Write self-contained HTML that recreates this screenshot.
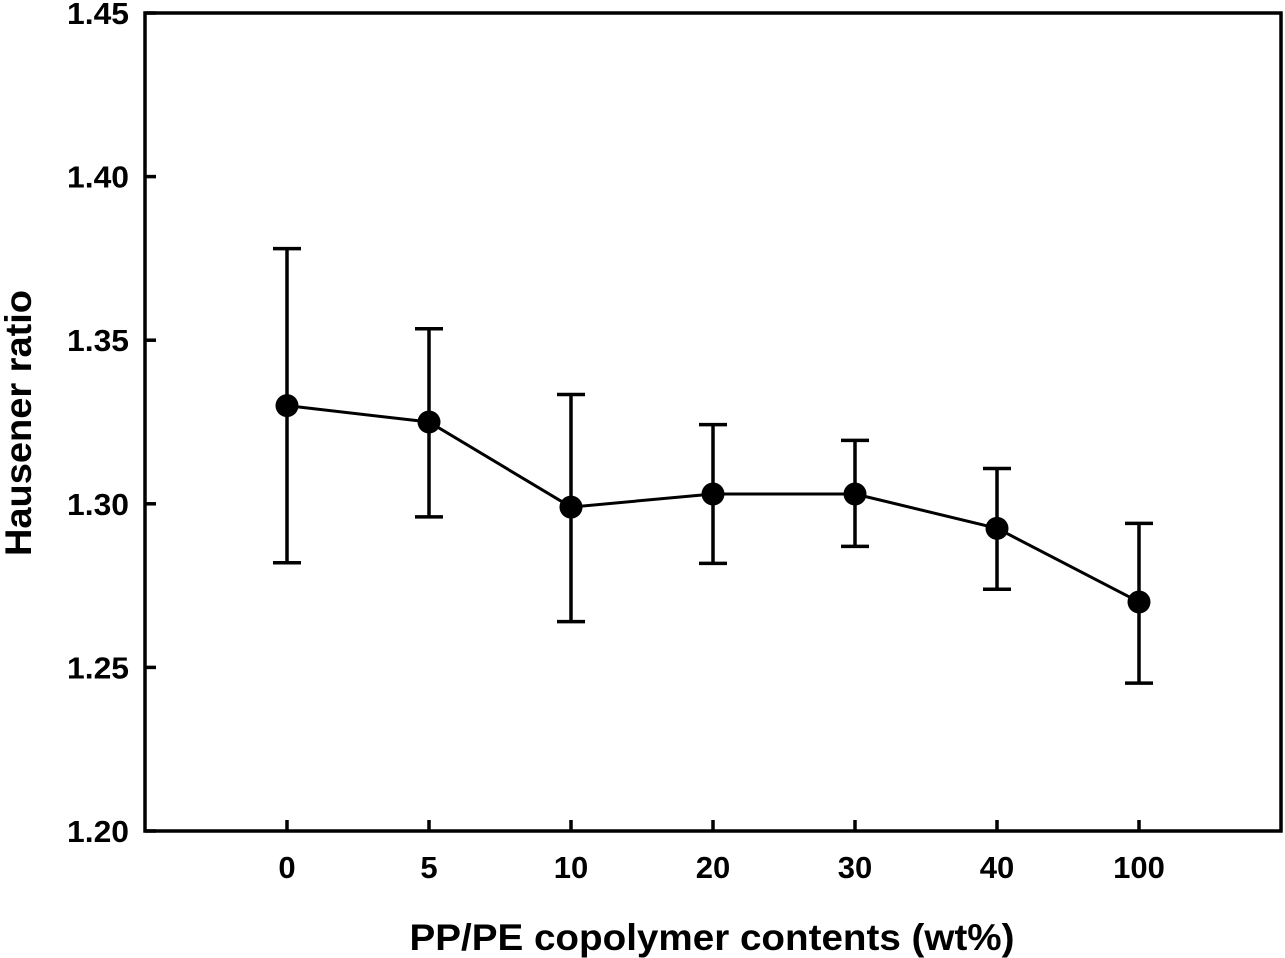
<!DOCTYPE html>
<html><head><meta charset="utf-8"><style>
html,body{margin:0;padding:0;background:#fff;}
svg{display:block;font-family:"Liberation Sans",Arial,sans-serif;font-weight:bold;}
</style></head><body>
<svg id="chart" width="1285" height="958" viewBox="0 0 1285 958" xmlns="http://www.w3.org/2000/svg"></svg>
<script>
const categories = ["0","5","10","20","30","40","100"];
const values = [1.330, 1.325, 1.299, 1.303, 1.303, 1.2925, 1.270];
const errUpper = [1.378, 1.3535, 1.3334, 1.3242, 1.3194, 1.3108, 1.294];
const errLower = [1.282, 1.296, 1.264, 1.2818, 1.287, 1.2739, 1.2452];
const yTicks = [1.20, 1.25, 1.30, 1.35, 1.40, 1.45];
const yTickLabels = ["1.20","1.25","1.30","1.35","1.40","1.45"];

const NS = "http://www.w3.org/2000/svg";
const svg = document.getElementById('chart');
const L = 145, R = 1281, T = 13, B = 831;
const yMin = 1.20, yMax = 1.45;
function yScale(v){ return B - (v - yMin) / (yMax - yMin) * (B - T); }
function xScale(i){ return L + (i + 1) * (R - L) / (categories.length + 1); }
function mk(tag, attrs, parent){
  const e = document.createElementNS(NS, tag);
  for (const k in attrs) e.setAttribute(k, attrs[k]);
  (parent || svg).appendChild(e);
  return e;
}

const frame = mk('rect', {x:L, y:T, width:R-L, height:B-T, fill:'none', stroke:'#000', 'stroke-width':3.5});



yTicks.forEach((v, i) => {
  const y = yScale(v);
  const t = mk('line', {x1:L, x2:L+11, y1:y, y2:y, stroke:'#000', 'stroke-width':3.5});
  
  
  const lb = mk('text', {x:129, y:y+11, 'text-anchor':'end', 'font-size':31, 'textLength':62, 'lengthAdjust':'spacingAndGlyphs'});
  lb.textContent = yTickLabels[i];
  
  
});

categories.forEach((c, i) => {
  const x = xScale(i);
  const t = mk('line', {x1:x, x2:x, y1:B, y2:B-11, stroke:'#000', 'stroke-width':3.5});
  
  
  const lb = mk('text', {x:x, y:878, 'text-anchor':'middle', 'font-size':31});
  lb.textContent = c;
  
  
});

const pts = values.map((v, i) => xScale(i) + ',' + yScale(v)).join(' ');
const line = mk('polyline', {points:pts, fill:'none', stroke:'#000', 'stroke-width':3});



values.forEach((v, i) => {
  const x = xScale(i), yu = yScale(errUpper[i]), yl = yScale(errLower[i]);
  const g = mk('g', {stroke:'#000', 'stroke-width':3.5});
  
  
  mk('line', {x1:x, x2:x, y1:yu, y2:yl}, g);
  mk('line', {x1:x-14, x2:x+14, y1:yu, y2:yu}, g);
  mk('line', {x1:x-14, x2:x+14, y1:yl, y2:yl}, g);
  const c = mk('circle', {cx:x, cy:yScale(v), r:11.5, fill:'#000'});
  
  
});

const xt = mk('text', {x:712, y:950, 'text-anchor':'middle', 'font-size':37, 'textLength':605, 'lengthAdjust':'spacingAndGlyphs'});
xt.textContent = 'PP/PE copolymer contents (wt%)';



const yt = mk('text', {x:0, y:0, 'text-anchor':'middle', 'font-size':37, 'textLength':266, 'lengthAdjust':'spacingAndGlyphs', transform:'translate(31,423) rotate(-90)'});
yt.textContent = 'Hausener ratio';


</script>
</body></html>
